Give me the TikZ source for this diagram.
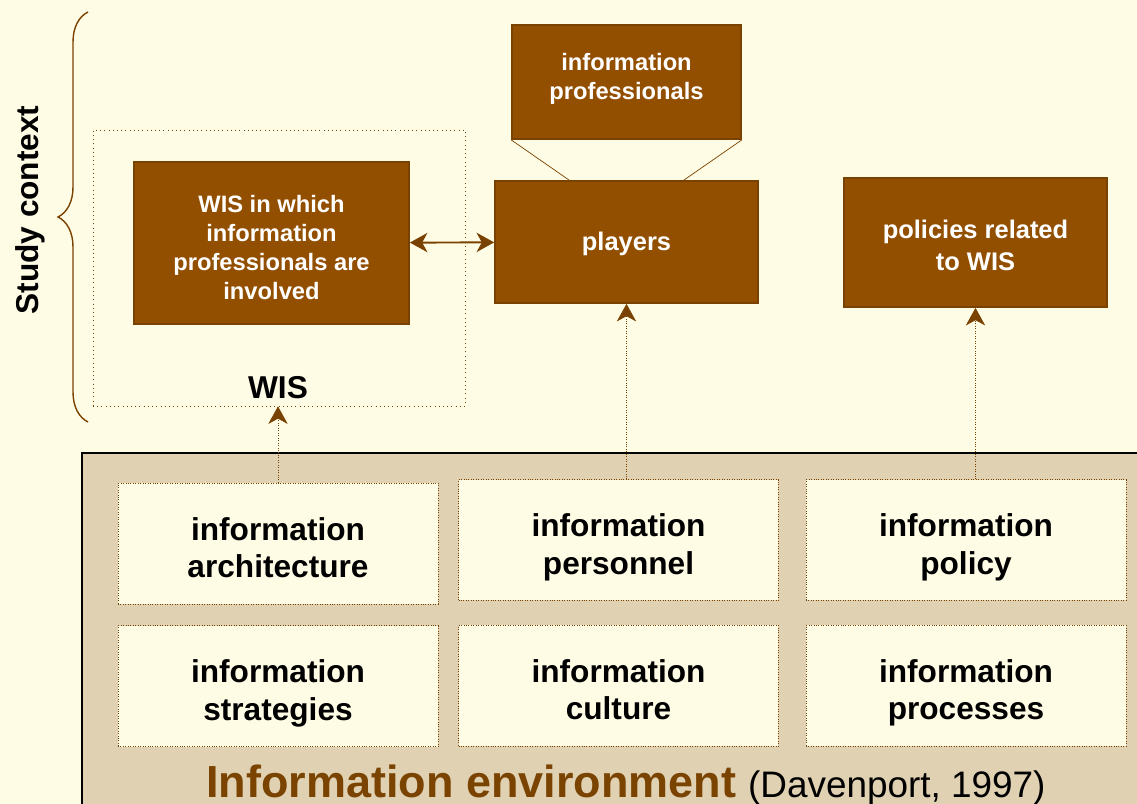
\documentclass[tikz,border=0pt]{standalone}
\usepackage{fontspec}
\setmainfont{Liberation Sans}
\usetikzlibrary{positioning, arrows.meta, decorations.pathreplacing}
\definecolor{cream}{HTML}{FFFCE6}
\definecolor{brownfill}{HTML}{934F00}
\definecolor{brownedge}{HTML}{7A4200}
\definecolor{tanbg}{HTML}{E0D1B3}
\definecolor{envtext}{HTML}{7A4300}
\newcommand{\celltext}[2][0pt]{\begin{tabular}{@{}c@{}}\rule{0pt}{#1}#2\end{tabular}}

\begin{document}
\begin{tikzpicture}[x=0.02cm, y=-0.02cm,
    >={Stealth[length=10pt, width=11pt, inset=3pt]},
    brownbox/.style={draw=brownedge, line width=1pt, fill=brownfill, text=white, inner sep=0pt, font=\bfseries\fontsize{13.5}{16.4}\selectfont},
    envbox/.style={draw=brownedge, densely dotted, thin, fill=cream, minimum width=6.4cm, minimum height=2.42cm, inner sep=0pt, font=\bfseries\fontsize{18}{21.5}\selectfont},
    uparrow/.style={->, draw=brownedge, densely dotted, thin}]
                \useasboundingbox (0,0) rectangle (1137,804);
                \fill[cream] (0,0) rectangle (1137,804);
                \clip (0,0) rectangle (1137,804);
                \draw[fill=tanbg, line width=1.2pt] (82,453) rectangle (1150,815);
                \node[rotate=90, font=\bfseries\fontsize{18}{20}\selectfont] (study) at (30,210) {Study context};
                \draw[brownedge, line width=0.8pt, decorate, decoration={brace, amplitude=0.6cm}] (88,422) -- (88,12);
                \node[draw=brownedge, dotted, thin, minimum width=7.44cm, minimum height=5.52cm] (wisbox) at (279,268) {};
                \node[font=\bfseries\fontsize{18}{20}\selectfont] (wislabel) at (278,388) {WIS};
                \node[brownbox, minimum width=5.5cm, minimum height=3.24cm] (wisinv) at (271.5,243) {\celltext[19.5pt]{WIS in which\\information\\professionals are\\involved}};
                \node[brownbox, minimum width=5.26cm, minimum height=2.44cm, font=\bfseries\fontsize{14.5}{18}\selectfont] (players) at (626.5,242) {\celltext[14.9pt]{players}};
                \node[brownbox, minimum width=4.58cm, minimum height=2.28cm] (infoprof) at (626.5,82) {\celltext{information\\professionals\rule[-8.3pt]{0pt}{0pt}}};
                \node[brownbox, minimum width=5.26cm, minimum height=2.58cm, font=\bfseries\fontsize{14.5}{18}\selectfont] (policies) at (975.5,242.5) {\celltext[19.4pt]{policies related\\to WIS}};
                \node[envbox] (arch) at (278,543.5) {\celltext[24pt]{information\\architecture}};
                \node[envbox] (pers) at (618.5,540) {\celltext[24pt]{information\\personnel}};
                \node[envbox] (poli) at (966,540) {\celltext[24pt]{information\\policy}};
                \node[envbox, below=0.42cm of arch] (strat) {\celltext[24pt]{information\\strategies}};
                \node[envbox, below=0.48cm of pers] (cult) {\celltext[24pt]{information\\culture}};
                \node[envbox, below=0.48cm of poli] (proc) {\celltext[24pt]{information\\processes}};
                \node[anchor=base] (envlabel) at (626,797) {{\color{envtext}\bfseries\fontsize{25.6}{30}\selectfont Information environment}\hspace{4pt} {\fontsize{21}{25}\selectfont (Davenport, 1997)}};
                \coordinate (pl1) at ([xshift=1.5cm]players.north west);
                \coordinate (pl2) at ([xshift=-1.5cm]players.north east);
                \draw[brownedge, thin] (infoprof.south west) -- (pl1);
                \draw[brownedge, thin] (infoprof.south east) -- (pl2);
                \draw[<->, brownedge, line width=1.1pt] (wisinv) -- (players);
                \draw[uparrow] (arch.north) -- (arch.north |- wisbox.south);
                \draw[uparrow] (players.south |- pers.north) -- (players.south);
                \draw[uparrow] (policies.south |- poli.north) -- (policies.south);
\end{tikzpicture}
\end{document}
